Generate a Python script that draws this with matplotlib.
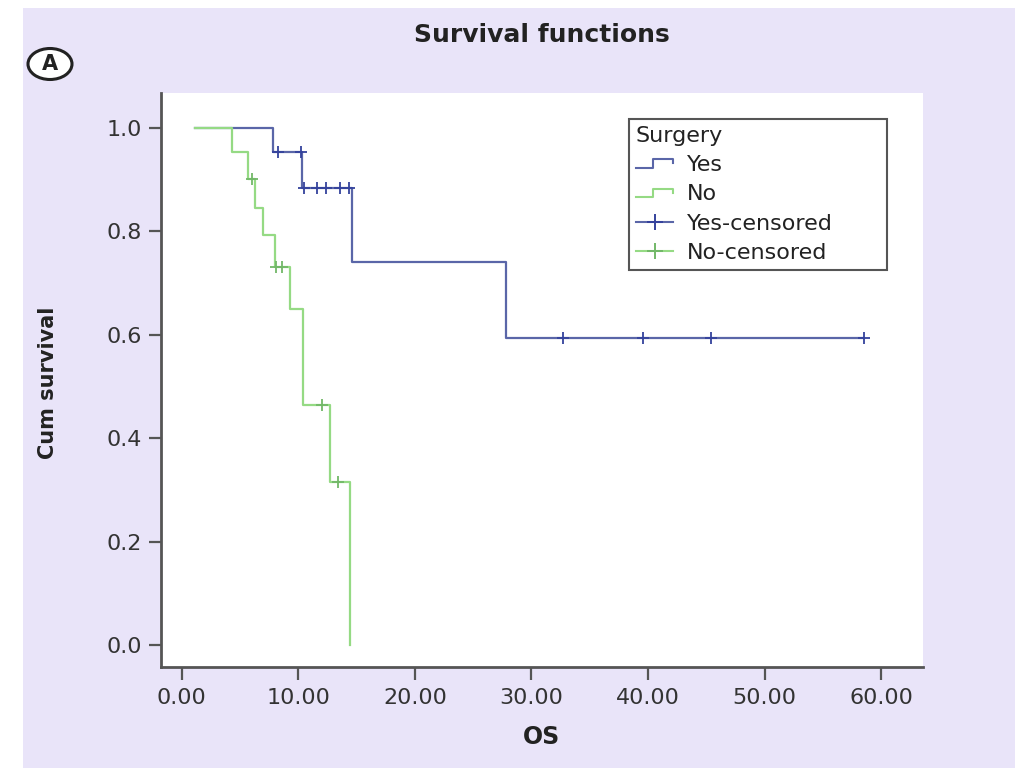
import numpy as np
import matplotlib
matplotlib.use("Agg")
import matplotlib.pyplot as plt
from matplotlib.lines import Line2D
from matplotlib.legend_handler import HandlerBase
from matplotlib.patches import Ellipse, Rectangle

plt.rcParams['font.family'] = ['DejaVu Sans']

# ---- data ----
yes_times = [1.14, 7.83, 10.32, 14.6, 27.8, 58.5]
yes_surv = [1.0, 0.954, 0.884, 0.741, 0.594, 0.594]
yes_censored = [8.26, 10.2, 10.5, 11.6, 12.4, 13.6, 14.35, 32.7, 39.6, 45.4, 58.5]

no_times = [1.14, 4.31, 5.69, 6.29, 6.97, 8.0, 9.29, 10.40, 12.72, 14.44]
no_surv = [1.0, 0.954, 0.901, 0.845, 0.793, 0.731, 0.650, 0.464, 0.315, 0.0]
no_censored = [6.03, 8.09, 8.61, 12.03, 13.4]

x_ticks = [0, 10, 20, 30, 40, 50, 60]
x_ticklabels = ["0.00", "10.00", "20.00", "30.00", "40.00", "50.00", "60.00"]
y_ticks = [0.0, 0.2, 0.4, 0.6, 0.8, 1.0]
y_ticklabels = ["0.0", "0.2", "0.4", "0.6", "0.8", "1.0"]
legend_labels = ["Yes", "No", "Yes-censored", "No-censored"]

BLUE = '#5a66a8'
BLUE_DARK = '#34429c'
GREEN = '#95da84'
GREEN_DARK = '#72b868'
AXC = '#555555'
BG = '#E9E4F9'

def step_value(times, surv, t):
    idx = np.searchsorted(np.asarray(times), t, side='right') - 1
    return np.asarray(surv)[idx]

W, H = 1015, 774
fig = plt.figure(figsize=(W / 100, H / 100), dpi=100)
fig.patch.set_facecolor('white')
fig.patches.append(Rectangle((23 / W, 6 / H), 1 - 23 / W, 1 - 14 / H,
                             transform=fig.transFigure, facecolor=BG,
                             edgecolor='none', zorder=-10))

ax = fig.add_axes([161 / W, 1 - 667 / H, (923 - 161) / W, (667 - 93) / H])
ax.set_facecolor('white')

ax.step(yes_times, yes_surv, where='post', color=BLUE, lw=1.6, zorder=3)
ax.step(no_times, no_surv, where='post', color=GREEN, lw=1.6, zorder=4)

yc = [step_value(yes_times, yes_surv, t) for t in yes_censored]
nc = [step_value(no_times, no_surv, t) for t in no_censored]
ax.plot(yes_censored, yc, ls='none', marker='+', ms=8, mew=1.3,
        color=BLUE_DARK, zorder=5)
ax.plot(no_censored, nc, ls='none', marker='+', ms=8, mew=1.3,
        color=GREEN_DARK, zorder=5)

ax.set_xlim(-1.775, 63.58)
ax.set_ylim(-0.0426, 1.0677)
ax.set_xticks(x_ticks)
ax.set_xticklabels(x_ticklabels)
ax.set_yticks(y_ticks)
ax.set_yticklabels(y_ticklabels)
ax.tick_params(axis='both', direction='out', length=9, width=1.6, color=AXC,
               labelsize=16, labelcolor='#333333')
ax.tick_params(axis='x', pad=6)
ax.tick_params(axis='y', pad=5)

for s in ['top', 'right']:
    ax.spines[s].set_visible(False)
for s in ['left', 'bottom']:
    ax.spines[s].set_color(AXC)
    ax.spines[s].set_linewidth(2)

ax.set_xlabel("OS", fontsize=17, fontweight='bold', color='#222222', labelpad=12)
fig.text(48 / W, 1 - 383 / H, "Cum survival", rotation=90, fontsize=15,
         fontweight='bold', color='#222222', ha='center', va='center')
fig.text(542 / W, 1 - 35 / H, "Survival functions", fontsize=18,
         fontweight='bold', color='#222222', ha='center', va='center')

# circled "A"
fig.patches.append(Ellipse((50 / W, 1 - 64 / H), 44 / W, 31 / H,
                           transform=fig.transFigure, facecolor='white',
                           edgecolor='#222222', lw=2.2))
fig.text(50 / W, 1 - 64 / H, "A", fontsize=15, fontweight='bold',
         color='#222222', ha='center', va='center')


class StepHandler(HandlerBase):
    def create_artists(self, legend, orig_handle, xdescent, ydescent,
                       width, height, fontsize, trans):
        x0, y0 = -xdescent, -ydescent
        xs = [x0, x0 + 0.45 * width, x0 + 0.45 * width, x0 + width, x0 + width]
        ys = [y0 + 0.2 * height, y0 + 0.2 * height, y0 + 0.75 * height,
              y0 + 0.75 * height, y0 + 0.5 * height]
        ln = Line2D(xs, ys, color=orig_handle.get_color(), lw=1.5)
        ln.set_transform(trans)
        return [ln]


h_yes = Line2D([], [], color=BLUE)
h_no = Line2D([], [], color=GREEN)
h_yc = Line2D([], [], color=BLUE, marker='+', ms=11, mew=1.4, lw=1.5,
              markeredgecolor=BLUE_DARK)
h_nc = Line2D([], [], color=GREEN, marker='+', ms=11, mew=1.4, lw=1.5,
              markeredgecolor=GREEN_DARK)

leg = ax.legend([h_yes, h_no, h_yc, h_nc], legend_labels,
                title="Surgery", title_fontsize=16, fontsize=16,
                loc='upper left', mode='expand',
                bbox_to_anchor=(629 / W, 1 - 272 / H, 258 / W, 153 / H),
                bbox_transform=fig.transFigure, borderaxespad=0,
                handler_map={h_yes: StepHandler(), h_no: StepHandler()},
                handlelength=1.7, handletextpad=0.6, labelspacing=0.42,
                borderpad=0.3, numpoints=1, fancybox=False, framealpha=1,
                edgecolor=AXC, alignment='left')
leg.get_frame().set_linewidth(1.5)
for t in leg.get_texts():
    t.set_color('#222222')
leg.get_title().set_color('#222222')

fig.savefig("out.png", dpi=100, facecolor=fig.get_facecolor())
